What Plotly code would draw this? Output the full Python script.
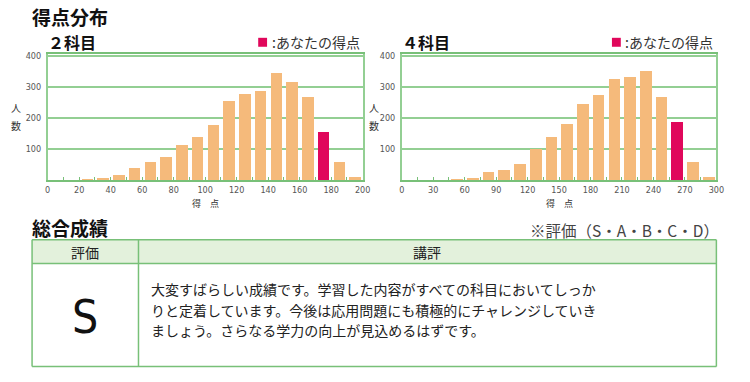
import plotly.graph_objects as go

# ---------------- data ----------------
bins_2 = [5, 15, 25, 35, 45, 55, 65, 75, 85, 95, 105, 115, 125, 135, 145, 155, 165, 175, 185, 195]
counts_2 = [0, 0, 4, 8, 18, 40, 58, 75, 114, 141, 180, 257, 280, 290, 346, 318, 270, 155, 60, 12]
my_bin_2 = 175

bins_4 = [7.5, 22.5, 37.5, 52.5, 67.5, 82.5, 97.5, 112.5, 127.5, 142.5, 157.5, 172.5,
          187.5, 202.5, 217.5, 232.5, 247.5, 262.5, 277.5, 292.5]
counts_4 = [0, 0, 0, 4, 7, 28, 34, 52, 100, 141, 182, 246, 276, 328, 333, 352, 270, 190, 59, 11]
my_bin_4 = 262.5

xticks_2 = [0, 20, 40, 60, 80, 100, 120, 140, 160, 180, 200]
xticks_4 = [0, 30, 60, 90, 120, 150, 180, 210, 240, 270, 300]
yticks = [100, 200, 300, 400]

subject_titles = ["２科目", "４科目"]
legend_label = ":あなたの得点"
section_titles = ["得点分布", "総合成績"]
grade_note = "※評価（S・A・B・C・D）"
table_headers = ["評価", "講評"]
grade = "S"
comment_lines = [
    "大変すばらしい成績です。学習した内容がすべての科目においてしっか",
    "りと定着しています。今後は応用問題にも積極的にチャレンジしていき",
    "ましょう。さらなる学力の向上が見込めるはずです。",
]

# ---------------- style ----------------
W, H = 750, 382
BAR = "#F5BA7B"
RED = "#E0075B"
GREEN = "#93CF93"
GREEN_D = "#78C078"
TXT_GRAY = "#555555"
JP = "Noto Sans CJK JP, sans-serif"
NUM = "DejaVu Sans Condensed, Liberation Sans Narrow, Noto Sans, sans-serif"


def px(x):
    return x / W


def py(y):
    return 1 - y / H


fig = go.Figure()

for i, (bins, counts, mine, binw) in enumerate(
    [(bins_2, counts_2, my_bin_2, 10), (bins_4, counts_4, my_bin_4, 15)]
):
    colors = [RED if b == mine else BAR for b in bins]
    fig.add_trace(go.Bar(
        x=bins, y=counts, width=[binw * 0.74] * len(bins),
        marker=dict(color=colors, line=dict(width=0)),
        xaxis="x" if i == 0 else "x2", yaxis="y" if i == 0 else "y2",
        showlegend=False, hoverinfo="skip",
    ))

plot_top, plot_bot = 52, 179
dom1 = [px(45.3), px(365)]
dom2 = [px(404.7), px(724)]
ydom = [py(plot_bot), py(plot_top)]

axis_common = dict(
    showline=True, linecolor=GREEN, linewidth=1.5, mirror=True,
    tickfont=dict(family=NUM, size=9, color=TXT_GRAY),
)

xcommon = dict(
    axis_common, showgrid=False, zeroline=False,
    ticks="inside", ticklen=3, tickcolor=GREEN_D, tickwidth=1,
    minor=dict(ticks="inside", ticklen=3, tickcolor=GREEN_D, tickwidth=1),
    linecolor=GREEN_D,
)
ycommon = dict(
    axis_common, showgrid=True, gridcolor=GREEN, gridwidth=1.5, zeroline=False,
    range=[0, 408], tickvals=yticks, ticks="", ticklabelstandoff=3,
)

fig.update_layout(
    width=W, height=H, margin=dict(l=0, r=0, t=0, b=0),
    paper_bgcolor="white", plot_bgcolor="white",
    xaxis=dict(xcommon, domain=dom1, range=[0, 200], tickvals=xticks_2,
               minor=dict(xcommon["minor"], dtick=10, tick0=0), anchor="y"),
    yaxis=dict(ycommon, domain=ydom, anchor="x"),
    xaxis2=dict(xcommon, domain=dom2, range=[0, 300], tickvals=xticks_4,
                minor=dict(xcommon["minor"], dtick=15, tick0=0), anchor="y2"),
    yaxis2=dict(ycommon, domain=ydom, anchor="x2"),
    bargap=0,
)

ann = []
shapes = []


def text(x, y, t, size, color="#111", family=JP, xanchor="left", bold=False):
    if bold:
        t = "<b>" + t + "</b>"
    ann.append(dict(x=px(x), y=py(y), xref="paper", yref="paper", text=t,
                    showarrow=False, xanchor=xanchor, yanchor="middle", align="left",
                    font=dict(family=family, size=size, color=color)))


# section titles
text(27, 15, section_titles[0], 19, bold=True)
text(27, 227, section_titles[1], 19, bold=True)

# per-chart decorations
for i, (x0, x1) in enumerate([(45.3, 365), (404.7, 724)]):
    text(x0 - 2, 40, subject_titles[i], 16, bold=True)
    # legend
    leg_r = x1 - 1
    text(leg_r, 40, legend_label, 14, color="#333", xanchor="right")
    shapes.append(dict(type="rect", xref="paper", yref="paper",
                       x0=px(leg_r - 105), x1=px(leg_r - 96),
                       y0=py(45), y1=py(36), fillcolor=RED, line=dict(width=0)))
    # axis titles
    yl_off = [-32, -28][i]
    text(x0 + yl_off, 106, "人", 10, color="#333", xanchor="center")
    text(x0 + yl_off, 124, "数", 10, color="#333", xanchor="center")
    text((x0 + x1) / 2, 203, "得　点", 9, color="#333", xanchor="center")

# table
T_L, T_R, T_T, T_H, T_B, T_C = 29.5, 724, 239, 263, 366.5, 137.5
shapes.append(dict(type="rect", xref="paper", yref="paper",
                   x0=px(T_L), x1=px(T_R), y0=py(T_H), y1=py(T_T),
                   fillcolor="#E3F1DC", line=dict(width=0), layer="below"))
for (a, b, c, d) in [
    (T_L, T_T, T_R, T_T), (T_L, T_B, T_R, T_B), (T_L, T_T, T_L, T_B),
    (T_R, T_T, T_R, T_B), (T_L, T_H, T_R, T_H), (T_C, T_T, T_C, T_B),
]:
    shapes.append(dict(type="line", xref="paper", yref="paper",
                       x0=px(a), y0=py(b), x1=px(c), y1=py(d),
                       line=dict(color=GREEN_D, width=1.5)))

text(729, 229, grade_note, 15.5, color="#444", xanchor="right")
text((T_L + T_C) / 2, 251, table_headers[0], 14, color="#222", xanchor="center")
text((T_C + T_R) / 2, 251, table_headers[1], 14, color="#222", xanchor="center")
text((T_L + T_C) / 2, 317, grade, 46, color="#111",
     family="Liberation Sans Narrow, DejaVu Sans Condensed, sans-serif", xanchor="center")
for k, line in enumerate(comment_lines):
    text(148, 289 + 20.5 * k, line, 14, color="#222")

fig.update_layout(annotations=ann, shapes=shapes)
fig.write_html("out.html", config={"displayModeBar": False},
               post_script="document.body.style.margin='0';")
